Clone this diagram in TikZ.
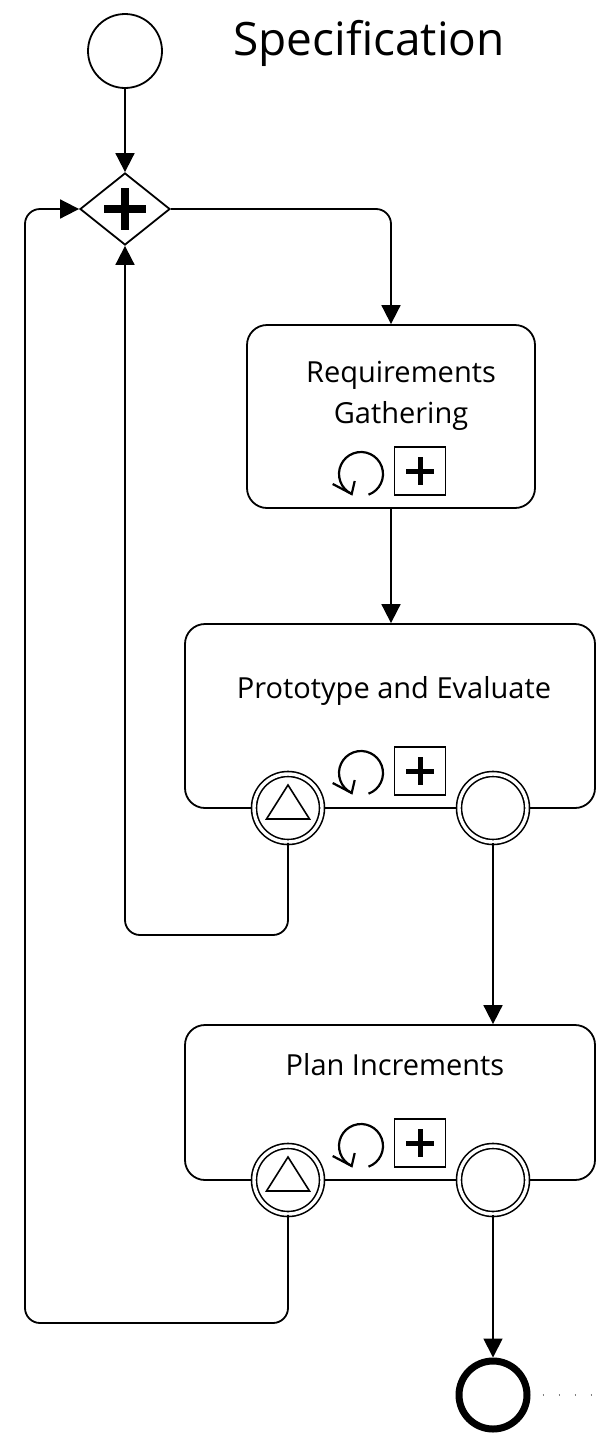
\documentclass[tikz,border=0pt]{standalone}
\usepackage{fontspec}
\setmainfont{Open Sans}
\usetikzlibrary{shapes.geometric,arrows.meta,calc}
\begin{document}
\begin{tikzpicture}[x=1pt,y=-1pt,
  flow/.style={line width=1.8pt, rounded corners=15pt, -{Triangle[length=19pt,width=19pt]}},
  taskbox/.style={draw, line width=1.8pt, rounded corners=20pt, fill=white, inner sep=0pt},
  startev/.style={circle, draw, line width=1.8pt, minimum size=74pt, inner sep=0pt},
  boundev/.style={circle, draw, double, double distance=3.4pt, line width=1.6pt, minimum size=68pt, inner sep=0pt, fill=white},
  endev/.style={circle, draw, line width=7pt, minimum size=68pt, inner sep=0pt},
  gateway/.style={diamond, draw, line width=1.8pt, minimum width=90pt, minimum height=72pt, inner sep=0pt, fill=white},
  tasklabel/.style={font=\fontsize{29}{41}\selectfont, align=center, inner sep=0pt},
  plusbox/.style={draw, line width=1.6pt, minimum width=51pt, minimum height=48pt, inner sep=0pt},
  plusbar/.style={line width=5pt},
  loopmark/.style={line width=2.2pt, line join=miter},
  signal/.style={line width=1.6pt, line join=miter},
  assoc/.style={draw=gray, line width=1.8pt, dash pattern=on 1.6pt off 14.4pt}
]
\useasboundingbox (0,0) rectangle (606,1435);

% title
\node[font=\fontsize{46}{50}\selectfont, anchor=base, inner sep=0pt] (title) at (369,55) {Specification};

% start event and gateway
\node[startev] (start) at (125,51) {};
\node[gateway] (gw) at (125,209) {};
\draw[line width=8pt] ($(gw)+(-21,0)$) -- ($(gw)+(21,0)$);
\draw[line width=8pt] ($(gw)+(0,-21)$) -- ($(gw)+(0,21)$);

% tasks
\node[taskbox, minimum width=288pt, minimum height=183pt] (rg) at (391,416.5) {};
\node[tasklabel] (rgtext) at (401,396) {Requirements\\Gathering};
\node[taskbox, minimum width=410pt, minimum height=184pt] (pe) at (390,716) {};
\node[tasklabel, anchor=base] (petext) at (394,698) {Prototype and Evaluate};
\node[taskbox, minimum width=410pt, minimum height=155pt] (pi) at (390,1102.5) {};
\node[tasklabel, anchor=base] (pitext) at (395,1075) {Plan Increments};

% loop markers
\foreach \cy in {474,773,1146} {
  \draw[loopmark] (361,\cy) ++(70:22) arc[start angle=70, end angle=-245, radius=22];
  \draw[loopmark] ($(361,\cy)+(-28.3,10)$) -- ($(361,\cy)+(-9.3,20)$) -- ($(361,\cy)+(-6.3,7)$);
}

% plus markers
\node[plusbox] (pb1) at (420,471) {};
\draw[plusbar] ($(pb1)+(-14,0)$) -- ($(pb1)+(14,0)$);
\draw[plusbar] ($(pb1)+(0,-14)$) -- ($(pb1)+(0,14)$);
\node[plusbox] (pb2) at (420,771) {};
\draw[plusbar] ($(pb2)+(-14,0)$) -- ($(pb2)+(14,0)$);
\draw[plusbar] ($(pb2)+(0,-14)$) -- ($(pb2)+(0,14)$);
\node[plusbox] (pb3) at (420,1143) {};
\draw[plusbar] ($(pb3)+(-14,0)$) -- ($(pb3)+(14,0)$);
\draw[plusbar] ($(pb3)+(0,-14)$) -- ($(pb3)+(0,14)$);

% boundary events
\node[boundev] (ev1) at (288,808) {};
\draw[signal] ($(ev1)+(0,-23)$) -- ($(ev1)+(-21.5,11)$) -- ($(ev1)+(21.5,11)$) -- cycle;
\node[boundev] (ev2) at (493,808) {};
\node[boundev] (ev3) at (288,1180) {};
\draw[signal] ($(ev3)+(0,-23)$) -- ($(ev3)+(-21.5,11)$) -- ($(ev3)+(21.5,11)$) -- cycle;
\node[boundev] (ev4) at (493,1180) {};

% end event
\node[endev] (end) at (493,1395) {};

% waypoints
\coordinate (c1) at (125,935);
\coordinate (c2) at (25,1323);
\coordinate (assocend) at (600,1395);

% connectors
\draw[flow] (start) -- (gw);
\draw[flow] (gw.east) -| (rg.north);
\draw[flow] (rg.south) -- (rg.south |- pe.north);
\draw[flow] (ev1.south) |- (c1) -- (gw.south);
\draw[flow] (ev2.south) -- (ev2.south |- pi.north);
\draw[flow] (ev3.south) |- (c2) |- (gw.west);
\draw[flow] (ev4.south) -- (end.north);
\draw[assoc] ([xshift=12pt]end.east) -- (assocend);
\end{tikzpicture}
\end{document}
